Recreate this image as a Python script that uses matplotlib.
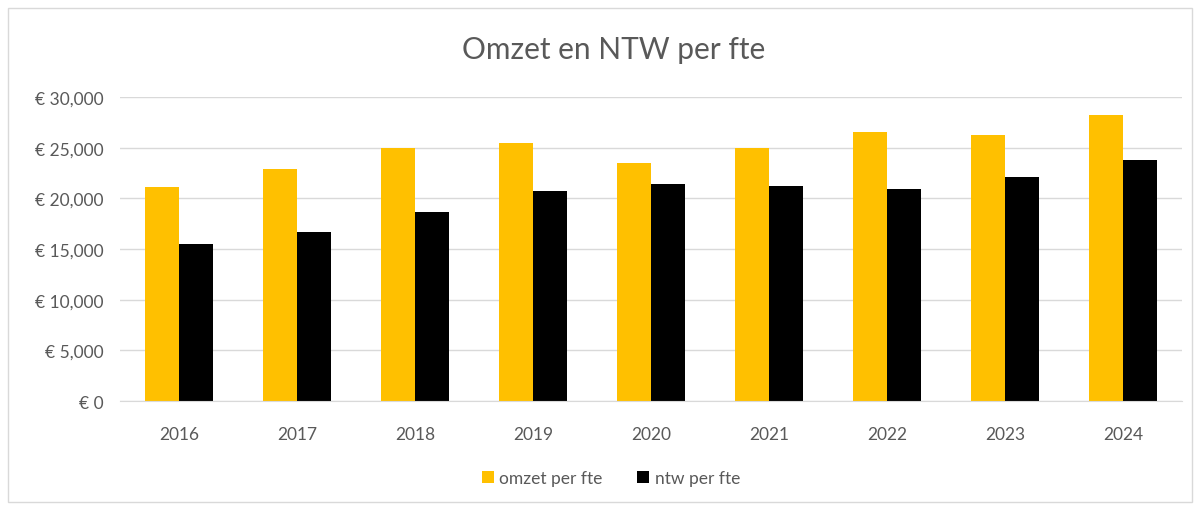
import numpy as np
import matplotlib
matplotlib.use('Agg')
import matplotlib.pyplot as plt
from matplotlib.patches import Rectangle

plt.rcParams['font.family'] = ['Lato', 'DejaVu Sans']

jaren = ['2016', '2017', '2018', '2019', '2020', '2021', '2022', '2023', '2024']
omzet_per_fte = [21100, 22850, 25000, 25500, 23500, 25000, 26550, 26300, 28200]
ntw_per_fte = [15450, 16650, 18650, 20700, 21450, 21250, 20900, 22150, 23800]
yticks = [0, 5000, 10000, 15000, 20000, 25000, 30000]

grijs = '#595959'

fig = plt.figure(figsize=(11.98, 5.06), dpi=100)
ax = fig.add_axes([0.1002, 0.2055, 0.8864, 0.6008])

x = np.arange(len(jaren))
w = 0.288
ax.bar(x - w / 2, omzet_per_fte, w, color='#FFC000', label='omzet per fte')
ax.bar(x + w / 2, ntw_per_fte, w, color='#000000', label='ntw per fte')

ax.set_xlim(-0.5, len(jaren) - 0.5)
ax.set_ylim(0, 30000)
ax.set_yticks(yticks)
ax.set_yticklabels(['€ ' + format(v, ',') if v else '€ 0' for v in yticks])
ax.set_xticks(x)
ax.set_xticklabels(jaren)
ax.tick_params(length=0, labelsize=12.5, colors=grijs)
ax.tick_params(axis='x', pad=18)
ax.tick_params(axis='y', pad=12)

ax.grid(axis='y', color='#D9D9D9', lw=1)
ax.set_axisbelow(True)
for s in ['top', 'right', 'left']:
    ax.spines[s].set_visible(False)
ax.spines['bottom'].set_color('#D9D9D9')

fig.text(0.512, 0.902, 'Omzet en NTW per fte', ha='center', va='center',
         fontsize=21.5, color=grijs)

fig.legend(loc='center', bbox_to_anchor=(0.51, 0.053), ncol=2, frameon=False,
           fontsize=12.5, labelcolor=grijs, handlelength=0.7, handleheight=0.7,
           handletextpad=0.3, columnspacing=2.0)

# rand om de grafiek
fig.patches.append(Rectangle((0.007, 0.005), 0.988, 0.978, transform=fig.transFigure,
                             fill=False, edgecolor='#D9D9D9', lw=1))

fig.savefig('out.png', dpi=100)
